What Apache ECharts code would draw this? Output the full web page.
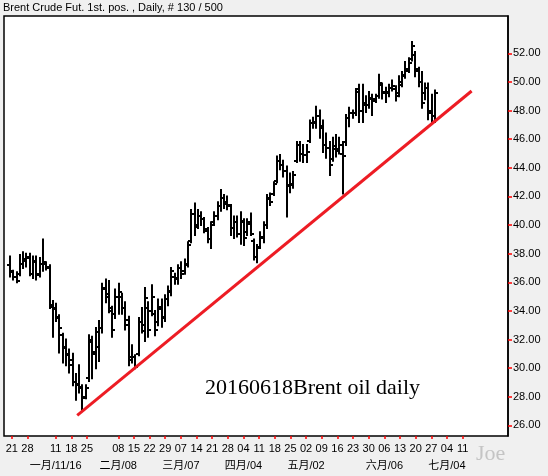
<!DOCTYPE html>
<html>
<head>
<meta charset="utf-8">
<title>Brent Crude Fut. Daily</title>
<script src="https://cdn.jsdelivr.net/npm/echarts@6/dist/echarts.min.js"></script>
<style>
  html, body { margin: 0; padding: 0; background: #f0f0f0; }
  #myChart { width: 548px; height: 476px; }
</style>
</head>
<body>
<div id="myChart"></div>
<script>
// 日线 OHLC，按时间顺序（最早在前）
const opens = [37.2,36.7,36.4,36.6,37.3,37.6,37.8,36.6,37.4,36.6,
  37.3,37.3,37.0,34.4,34.2,33.5,32.3,31.4,31.0,30.6,
  29.0,28.8,28.6,28.0,29.3,31.8,31.0,31.5,32.8,35.6,
  35.2,34.0,33.8,35.0,35.0,34.2,33.4,30.8,30.8,31.0,
  33.2,32.6,34.2,34.0,33.8,33.2,34.3,33.6,34.8,35.4,
  36.4,36.2,37.0,36.8,37.3,38.9,40.8,40.0,40.6,40.4,
  39.6,39.0,40.2,40.6,41.3,41.9,41.6,41.3,39.8,40.2,
  39.4,40.2,39.5,40.2,38.9,37.8,38.5,39.1,40.0,41.9,
  42.2,43.1,44.5,44.2,43.8,42.8,42.8,44.5,45.6,45.0,
  44.9,45.9,47.1,47.1,47.6,46.9,45.6,45.4,44.6,45.3,
  45.3,45.0,45.8,47.5,47.8,47.8,49.5,48.0,48.5,48.4,
  48.9,48.8,49.0,49.8,49.3,49.2,49.6,49.5,49.2,49.8,
  50.4,50.9,51.6,51.9,50.9,50.0,49.2,49.6,48.0,47.6];
const highs = [37.8,36.8,36.7,37.9,38.1,38.0,38.0,37.8,37.8,37.7,
  39.0,37.4,37.2,34.7,34.5,33.7,32.4,32.0,31.3,31.0,
  29.6,30.2,28.8,28.8,32.3,32.2,32.8,33.3,35.9,36.2,
  36.1,34.3,35.5,35.9,35.2,34.6,33.6,31.6,30.9,33.5,
  34.2,35.6,34.6,35.8,34.0,34.8,34.8,35.1,35.7,37.0,
  36.6,37.2,37.4,37.6,38.8,41.05,41.5,41.05,40.9,40.5,
  39.8,40.2,40.9,41.6,42.45,42.1,42.0,41.4,40.6,40.6,
  40.9,40.4,40.4,40.8,39.0,38.6,39.5,40.2,42.1,42.2,
  43.0,44.8,44.9,44.5,44.1,43.6,43.7,45.8,45.8,45.6,
  45.6,47.3,47.5,48.27,48.0,47.3,46.4,45.8,46.1,46.3,
  46.1,45.8,47.7,48.2,48.0,49.5,49.8,49.8,49.0,49.3,
  49.1,49.1,50.5,49.9,49.6,49.8,50.1,49.7,50.4,50.7,
  51.4,51.65,52.8,52.1,51.0,50.7,49.9,49.9,49.1,49.4];
const lows = [36.4,36.2,36.0,36.5,37.0,37.1,36.5,36.3,36.2,36.4,
  36.8,36.9,34.2,32.2,33.3,31.1,30.4,30.2,29.7,28.8,
  27.8,28.3,27.1,27.9,29.1,29.3,30.0,30.5,32.5,34.6,
  33.9,32.2,33.5,33.8,33.8,32.7,30.2,30.4,30.0,30.9,
  32.5,31.9,32.2,33.7,32.3,33.0,32.9,33.3,34.4,35.1,
  35.9,35.9,36.3,36.6,37.1,38.8,39.3,39.8,40.0,39.5,
  38.8,38.4,40.0,40.4,41.0,41.2,41.1,39.3,39.1,39.2,
  38.7,38.6,39.3,39.3,37.6,37.4,38.4,38.8,39.8,41.4,
  42.1,43.0,43.9,43.4,40.6,42.3,42.6,44.4,44.5,44.4,
  44.4,45.8,46.8,46.8,46.1,45.1,44.7,43.5,44.5,44.8,
  45.0,42.2,45.6,46.9,47.5,47.7,47.2,47.2,47.9,48.2,
  47.7,48.6,48.9,48.85,48.6,49.0,49.4,48.7,49.0,49.7,
  50.3,50.7,51.5,50.4,49.7,48.2,48.8,47.4,47.2,47.2];
const closes = [36.8,36.4,36.1,37.3,37.5,37.7,36.6,37.5,36.5,37.3,
  37.4,37.1,34.3,34.1,33.6,32.8,31.5,30.9,30.2,29.0,
  28.9,28.7,27.9,28.6,32.0,31.1,32.5,32.8,35.5,35.0,
  34.2,32.7,35.0,35.3,34.2,33.0,30.6,30.8,30.1,33.2,
  33.0,34.9,32.7,35.0,32.7,34.1,33.5,34.8,35.3,36.8,
  36.3,37.0,36.6,37.2,38.6,40.8,39.9,40.6,40.4,39.7,
  39.0,40.0,40.6,41.3,41.9,41.5,41.4,39.8,40.2,39.4,
  40.3,39.1,40.1,39.4,37.8,38.4,39.2,40.0,41.8,41.6,
  42.9,44.5,44.2,43.8,42.7,42.9,43.5,45.6,45.0,44.9,
  45.1,47.1,47.2,47.6,46.8,45.6,45.4,44.2,45.5,45.2,
  45.6,44.8,47.5,47.8,47.8,49.3,48.0,48.4,48.4,48.8,
  48.7,49.0,49.9,49.2,49.3,49.6,49.7,49.0,50.0,50.5,
  50.8,51.3,52.5,50.8,50.0,48.5,49.6,47.8,47.6,49.25];

// 手画的支撑线：两端 [K线序号, 价格]
const trendBars = [20.4, 140.1];
const trendPrices = [26.70, 49.37];

// 价格刻度
const yTicks = [26, 28, 30, 32, 34, 36, 38, 40, 42, 44, 46, 48, 50, 52];

// 日期轴：交易日格子，周一显示日期
const firstDay = '2015-12-17';
const dayCount = 161;
const holidays = ['2016-01-01'];
const tickDates = ['2015-12-21','2015-12-28','2016-01-11','2016-01-18','2016-01-25',
  '2016-02-08','2016-02-15','2016-02-22','2016-02-29','2016-03-07','2016-03-14',
  '2016-03-21','2016-03-28','2016-04-04','2016-04-11','2016-04-18','2016-04-25',
  '2016-05-02','2016-05-09','2016-05-16','2016-05-23','2016-05-30','2016-06-06',
  '2016-06-13','2016-06-20','2016-06-27','2016-07-04','2016-07-11'];
const monthLabels = {
  '2016-01-11': '一月/11/16',
  '2016-02-08': '二月/08',
  '2016-03-07': '三月/07',
  '2016-04-04': '四月/04',
  '2016-05-02': '五月/02',
  '2016-06-06': '六月/06',
  '2016-07-04': '七月/04'
};

const titleText = 'Brent Crude Fut. 1st. pos. , Daily, # 130 / 500';
const noteText = '20160618Brent oil daily';

// 交易日列表（跳过周末和假日）
const days = [];
let d = new Date(firstDay + 'T00:00:00Z');
while (days.length < dayCount) {
  const s = d.toISOString().slice(0, 10);
  const wd = d.getUTCDay();
  if (wd !== 0 && wd !== 6 && holidays.indexOf(s) < 0) days.push(s);
  d = new Date(d.getTime() + 86400000);
}
const isTick = (idx) => tickDates.indexOf(days[idx]) >= 0;
const isMonth = (idx) => !!monthLabels[days[idx]];

const bars = closes.map((c, i) => [i, opens[i], highs[i], lows[i], c]);
const lastPrice = closes[closes.length - 1];

const font = '"Liberation Sans", "Noto Sans CJK SC", sans-serif';

// 美国线：竖线=高低，左短横=开盘，右短横=收盘
function renderOhlc(params, api) {
  const i = api.value(0);
  const hi = api.coord([i, api.value(2)]);
  const lo = api.coord([i, api.value(3)]);
  const op = api.coord([i, api.value(1)]);
  const cl = api.coord([i, api.value(4)]);
  const x = Math.round(hi[0]);
  const style = {stroke: '#000', lineWidth: 2};
  return {
    type: 'group',
    children: [
      {type: 'line', shape: {x1: x, y1: hi[1] - 1, x2: x, y2: lo[1] + 1}, style: style},
      {type: 'line', shape: {x1: x - 3, y1: Math.round(op[1]), x2: x, y2: Math.round(op[1])}, style: style},
      {type: 'line', shape: {x1: x, y1: Math.round(cl[1]), x2: x + 3, y2: Math.round(cl[1])}, style: style}
    ]
  };
}

const thisChart = echarts.init(document.getElementById('myChart'));
thisChart.setOption({
  animation: false,
  backgroundColor: '#f0f0f0',
  textStyle: {fontFamily: font},
  title: {
    text: titleText,
    left: 3, top: 2, padding: 0,
    textStyle: {fontSize: 11, fontWeight: 'normal', color: '#000', fontFamily: font}
  },
  grid: {
    left: 4, right: 40, top: 16, bottom: 40,
    show: true, backgroundColor: '#fff', borderColor: '#000', borderWidth: 1.5,
    outerBoundsMode: 'none'
  },
  xAxis: [
    {
      // K线序号轴（隐藏）
      type: 'value', position: 'top', show: false,
      min: -1.82, max: 151.14
    },
    {
      // 日期（日）
      type: 'category', position: 'bottom', data: days, boundaryGap: true,
      axisLine: {show: false, onZero: false},
      axisTick: {
        show: true, alignWithLabel: true, length: 3,
        interval: (idx) => isTick(idx),
        lineStyle: {color: '#ff0000', width: 1.5}
      },
      axisLabel: {
        interval: (idx) => isTick(idx),
        showMinLabel: true, showMaxLabel: true,
        margin: 7, fontSize: 11, color: '#000', fontFamily: font,
        formatter: (v) => v.slice(8, 10)
      },
      splitLine: {show: false}
    },
    {
      // 日期（月）
      type: 'category', position: 'bottom', data: days, boundaryGap: true,
      axisLine: {show: false, onZero: false},
      axisTick: {show: false},
      axisLabel: {
        interval: (idx) => isMonth(idx),
        showMinLabel: true, showMaxLabel: true,
        margin: 24, fontSize: 11, color: '#000', fontFamily: font,
        formatter: (v) => monthLabels[v] || ''
      },
      splitLine: {show: false}
    }
  ],
  yAxis: {
    type: 'value', position: 'right', min: 25.26, max: 54.61,
    axisLine: {show: true, onZero: false, lineStyle: {color: '#000', width: 1.5}},
    splitLine: {show: false},
    axisTick: {show: true, length: 4, customValues: yTicks, lineStyle: {color: '#ff0000', width: 1.5}},
    axisLabel: {
      customValues: yTicks, margin: 5, fontSize: 11, color: '#000', fontFamily: font,
      formatter: (v) => v.toFixed(2)
    }
  },
  series: [
    {
      name: 'Brent',
      type: 'custom',
      xAxisIndex: 0,
      renderItem: renderOhlc,
      encode: {x: 0, y: [1, 2, 3, 4]},
      data: bars,
      clip: true,
      z: 2
    },
    {
      name: 'trend',
      type: 'line',
      xAxisIndex: 0,
      data: trendBars.map((b, i) => [b, trendPrices[i]]),
      showSymbol: false,
      symbol: 'none',
      lineStyle: {color: '#ed1c24', width: 3},
      z: 3,
      markLine: {
        silent: true,
        symbol: 'none',
        lineStyle: {opacity: 0},
        label: {
          position: 'end', distance: 3,
          formatter: () => lastPrice.toFixed(2),
          color: '#0000ff', fontSize: 11, fontFamily: font,
          borderColor: '#ff0000', borderWidth: 1, padding: [1, 2, 0, 3]
        },
        data: [{yAxis: lastPrice}]
      }
    }
  ],
  graphic: [
    {
      type: 'text', left: 205, top: 377,
      style: {text: noteText, font: '22px "Liberation Serif", serif', fill: '#000'}
    },
    {
      type: 'text', left: 476, top: 443,
      style: {text: 'Joe', font: '22px "Liberation Serif", serif', fill: '#c4c4c4'}
    }
  ]
});
</script>
</body>
</html>
